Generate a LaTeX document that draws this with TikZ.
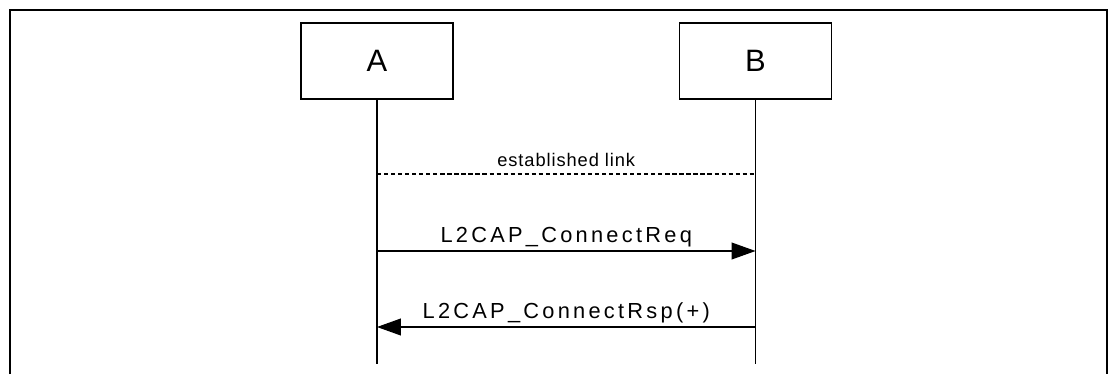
\documentclass[tikz,border=0pt]{standalone}
\usepackage{fontspec}
\setmainfont{Liberation Sans}
\usetikzlibrary{arrows.meta,positioning}
\tikzset{%
    entity/.style={%
        rectangle, draw, line width=0.8pt, minimum width=3.8cm, minimum height=1.9cm,
        text centered, font=\fontsize{22}{26}\selectfont
    },
    lifeline/.style={%
        line width=0.8pt
    },
    msg/.style={%
        -{Triangle[length=17pt,width=12pt]}, line width=0.8pt
    },
    link/.style={%
        dash pattern=on 3pt off 2pt, line width=0.8pt
    },
    lbl/.style={%
        anchor=base, inner sep=0pt, yshift=5.7pt,
        font=\fontsize{15.5}{18}\selectfont\addfontfeature{LetterSpace=15}
    },
    linklbl/.style={%
        anchor=base, inner sep=0pt, yshift=5pt,
        font=\fontsize{13}{15}\selectfont\addfontfeature{LetterSpace=5}
    },
}

\begin{document}
\begin{tikzpicture}[x=0.025cm,y=-0.025cm]
      \useasboundingbox (0,0) rectangle (1108,374);
      % frame
      \draw[line width=1.5pt] (10,374) -- (10,10) -- (1107,10) -- (1107,374);

      \node[entity] (A) at (377,61) {A};
      \node[entity] (B) at (755.5,61) {B};
      \coordinate (A-link) at (377,174);
      \coordinate (B-link) at (755.5,174);
      \coordinate (A-req) at (377,251);
      \coordinate (B-req) at (755.5,251);
      \coordinate (A-rsp) at (377,327);
      \coordinate (B-rsp) at (755.5,327);
      \coordinate (A-end) at (377,364);
      \coordinate (B-end) at (755.5,364);

      \draw[lifeline] (A.south) -- (A-end);
      \draw[lifeline] (B.south) -- (B-end);

      \draw[link] (A-link) -- (B-link) node[midway, linklbl]{established link};
      \draw[msg] (A-req) -- (B-req) node[midway, lbl]{L2CAP\_ConnectReq};
      \draw[msg] (B-rsp) -- (A-rsp) node[midway, lbl]{L2CAP\_ConnectRsp(+)};
\end{tikzpicture}
\end{document}
